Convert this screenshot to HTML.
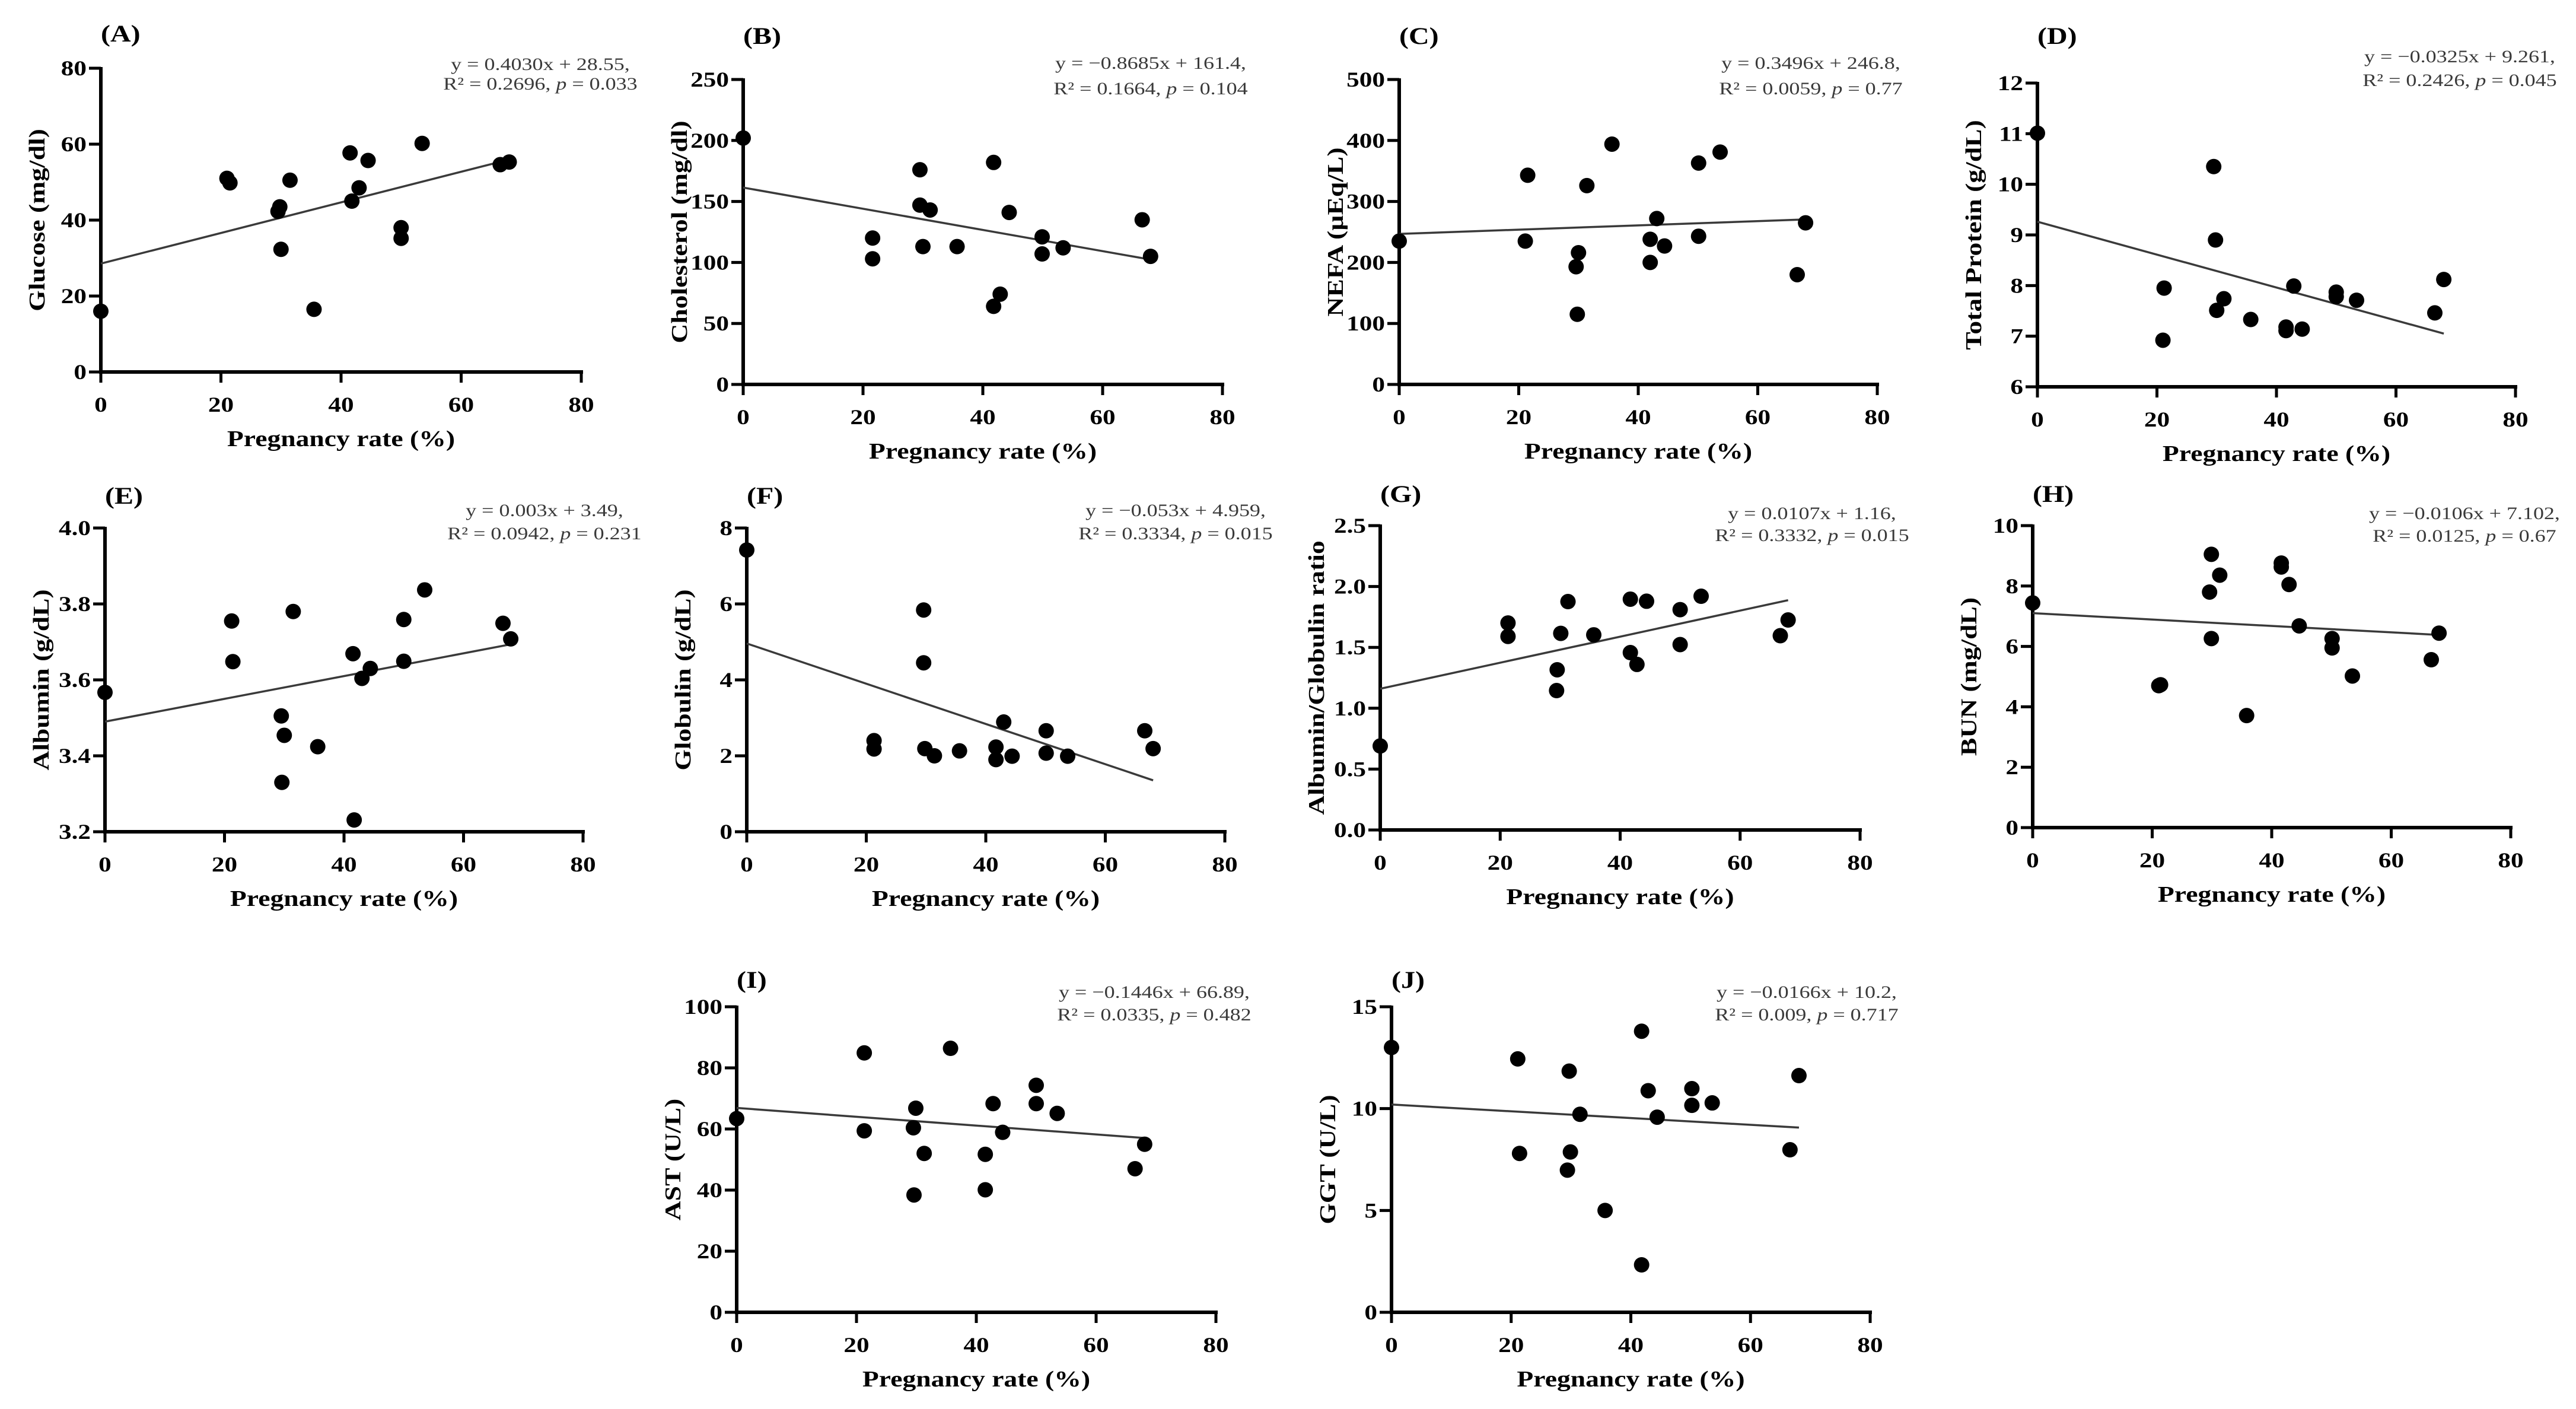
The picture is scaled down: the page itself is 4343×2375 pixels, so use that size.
<!DOCTYPE html>
<html><head><meta charset="utf-8"><style>
html,body{margin:0;padding:0;background:#fff;}
svg{display:block;}
text{font-family:"Liberation Serif","DejaVu Serif",serif;}
</style></head><body>
<svg id="fig" width="4343" height="2375" viewBox="0 0 4343 2375" xmlns="http://www.w3.org/2000/svg"></svg>
<script>
// ---- data (pregnancy rate %, value) ----
const X_A=[0,21,21.5,29.5,29.8,30,31.5,35.5,41.5,41.8,43,44.5,50,50,53.5,66.5,68];
const Y_A=[16,51,49.8,42.3,43.5,32.3,50.5,16.5,57.7,45,48.5,55.7,38,35.2,60.2,54.6,55.3];
const X_B=[0,21.6,21.6,29.5,29.5,31.2,30,35.7,41.8,42.9,41.8,44.4,49.9,49.9,53.4,66.6,68];
const Y_B=[202,120,103,176,147,143,113,113,182,74,64,141,121,107,112,135,105];
const X_C=[0,21.5,21.1,30,29.6,29.8,31.4,35.6,42,42,43.1,44.4,50.1,50.1,53.7,66.6,68];
const Y_C=[235,343,235,216,193,115,326,394,238,200,272,227,363,243,381,180,265];
const X_D=[0,21.2,21,29.5,29.8,30,31.2,35.7,41.6,41.6,42.9,44.3,50,50,53.4,66.5,68];
const Y_D=[11.01,7.95,6.92,10.35,8.9,7.51,7.74,7.33,7.18,7.11,7.99,7.14,7.87,7.78,7.71,7.46,8.12];
const X_E=[0,21.2,21.4,29.5,30,29.6,31.5,35.6,41.5,41.7,43,44.4,50,50,53.5,66.6,67.9];
const Y_E=[3.567,3.755,3.648,3.505,3.454,3.33,3.78,3.424,3.669,3.231,3.604,3.63,3.759,3.649,3.837,3.749,3.708];
const X_F=[0,21.3,21.3,29.6,29.6,29.8,31.4,35.6,41.7,41.7,43,44.4,50.1,50.1,53.7,66.6,68];
const Y_F=[7.42,2.4,2.18,5.84,4.45,2.19,2.0,2.13,2.23,1.9,2.89,1.99,2.66,2.07,1.99,2.66,2.19];
const X_G=[0,21.3,21.3,29.5,29.4,30.1,31.3,35.6,41.7,41.7,42.8,44.4,50,50,53.5,66.7,68];
const Y_G=[0.69,1.70,1.59,1.316,1.145,1.615,1.876,1.603,1.896,1.457,1.36,1.879,1.81,1.523,1.92,1.596,1.725];
const X_H=[0,21.1,21.4,29.9,31.3,29.6,29.9,35.8,41.6,41.6,42.9,44.6,50.1,50.1,53.5,66.7,68];
const Y_H=[7.44,4.7,4.73,9.05,8.36,7.8,6.26,3.71,8.76,8.63,8.05,6.68,6.26,5.95,5.02,5.56,6.44];
const X_I=[0,21.3,21.3,29.5,29.6,29.9,31.3,35.7,41.5,41.5,42.8,44.4,50,50,53.5,66.5,68.1];
const Y_I=[63.4,84.9,59.4,60.4,38.4,66.8,52,86.4,51.7,40.1,68.3,58.9,74.3,68.3,65.1,47,55];
const X_J=[0,21.1,21.4,29.7,29.9,29.4,31.5,35.7,41.8,41.8,42.9,44.4,50.2,50.2,53.6,66.6,68.1];
const Y_J=[13.0,12.44,7.8,11.84,7.87,6.98,9.72,5.0,13.8,2.33,10.88,9.58,10.98,10.16,10.28,7.98,11.62];
const SLOPES=[0.4030,-0.8685,0.3496,-0.0325,0.003,-0.053,0.0107,-0.0106,-0.1446,-0.0166];
const INTERCEPTS=[28.55,161.4,246.8,9.261,3.49,4.959,1.16,7.102,66.89,10.2];
const X_TICKS=[0,20,40,60,80];
const Y_TICKS_A=[0,20,40,60,80];
const Y_TICKS_B=[0,50,100,150,200,250];
const Y_TICKS_C=[0,100,200,300,400,500];
const Y_TICKS_D=[6,7,8,9,10,11,12];
const Y_TICKS_E=[3.2,3.4,3.6,3.8,4.0];
const Y_TICKS_F=[0,2,4,6,8];
const Y_TICKS_G=[0,0.5,1.0,1.5,2.0,2.5];
const Y_TICKS_H=[0,2,4,6,8,10];
const Y_TICKS_I=[0,20,40,60,80,100];
const Y_TICKS_J=[0,5,10,15];
const EQ1=['y = 0.4030x + 28.55,','y = \u22120.8685x + 161.4,','y = 0.3496x + 246.8,','y = \u22120.0325x + 9.261,','y = 0.003x + 3.49,','y = \u22120.053x + 4.959,','y = 0.0107x + 1.16,','y = \u22120.0106x + 7.102,','y = \u22120.1446x + 66.89,','y = \u22120.0166x + 10.2,'];
const R2=['0.2696','0.1664','0.0059','0.2426','0.0942','0.3334','0.3332','0.0125','0.0335','0.009'];
const PV=['0.033','0.104','0.77','0.045','0.231','0.015','0.015','0.67','0.482','0.717'];
const YLABELS=['Glucose (mg/dl)','Cholesterol (mg/dl)','NEFA (\u00b5Eq/L)','Total Protein (g/dL)','Albumin (g/dL)','Globulin (g/dL)','Albumin/Globulin ratio','BUN (mg/dL)','AST (U/L)','GGT (U/L)'];

// ---- layout ----
const P=[
 {id:'A',ax:170,x80:980,yT:115,y0:627,eqR:1086,eqY:108,eqY2:141,labY:56,xs:X_A,ys:Y_A,t:Y_TICKS_A,d:0},
 {id:'B',ax:1253,x80:2061,yT:134,y0:648,eqR:2115,eqY:106,eqY2:149,labY:60,xs:X_B,ys:Y_B,t:Y_TICKS_B,d:0},
 {id:'C',ax:2359,x80:3165,yT:134,y0:648,eqR:3228,eqY:106,eqY2:149,labY:60,xs:X_C,ys:Y_C,t:Y_TICKS_C,d:0},
 {id:'D',ax:3435,x80:4241,yT:140,y0:652,eqR:4322,eqY:95,eqY2:135,labY:60,xs:X_D,ys:Y_D,t:Y_TICKS_D,d:0},
 {id:'E',ax:177,x80:983,yT:890,y0:1402,eqR:1093,eqY:860,eqY2:899,labY:835,xs:X_E,ys:Y_E,t:Y_TICKS_E,d:1},
 {id:'F',ax:1259,x80:2065,yT:890,y0:1402,eqR:2157,eqY:860,eqY2:899,labY:835,xs:X_F,ys:Y_F,t:Y_TICKS_F,d:0},
 {id:'G',ax:2327,x80:3136,yT:886,y0:1399,eqR:3230,eqY:865,eqY2:902,labY:832,xs:X_G,ys:Y_G,t:Y_TICKS_G,d:1},
 {id:'H',ax:3427,x80:4233,yT:886,y0:1395,eqR:4330,eqY:865,eqY2:903,labY:832,xs:X_H,ys:Y_H,t:Y_TICKS_H,d:0},
 {id:'I',ax:1242,x80:2050,yT:1697,y0:2212,eqR:2121,eqY:1672,eqY2:1710,labY:1651,xs:X_I,ys:Y_I,t:Y_TICKS_I,d:0},
 {id:'J',ax:2346,x80:3153,yT:1697,y0:2212,eqR:3221,eqY:1672,eqY2:1710,labY:1651,xs:X_J,ys:Y_J,t:Y_TICKS_J,d:0}
];
const NS='http://www.w3.org/2000/svg';
const svg=document.getElementById('fig');
const SX=1.2;
function mk(tag,attrs,parent){const e=document.createElementNS(NS,tag);for(const k in attrs)e.setAttribute(k,attrs[k]);(parent||svg).appendChild(e);return e;}
function stretch(t){const l=t.getComputedTextLength();if(l>0){t.setAttribute('textLength',(l*SX).toFixed(1));t.setAttribute('lengthAdjust','spacingAndGlyphs');}}

P.forEach((p,i)=>{
  const g=mk('g',{});
  
  
  const ymin=p.t[0], ymax=p.t[p.t.length-1];
  const sx=v=>p.ax+(v-0)/(80-0)*(p.x80-p.ax);
  const sy=v=>p.y0-(v-ymin)/(ymax-ymin)*(p.y0-p.yT);
  const lab=mk('text',{x:p.ax,y:p.labY+14,'font-size':40,'font-weight':'bold',fill:'#000'},g);
  lab.textContent='('+p.id+')';
  
  
  stretch(lab);
  const ya=mk('line',{x1:p.ax,y1:p.yT-2,x2:p.ax,y2:p.y0+3,stroke:'#000','stroke-width':6},g);
  
  
  const xa=mk('line',{x1:p.ax-3,y1:p.y0,x2:p.x80+3,y2:p.y0,stroke:'#000','stroke-width':6},g);
  
  
  p.t.forEach(v=>{
    const y=sy(v);
    const tk=mk('line',{x1:p.ax-20,y1:y,x2:p.ax,y2:y,stroke:'#000','stroke-width':5},g);
    
    
    const tl=mk('text',{x:p.ax-24,y:y+12,'font-size':36,'font-weight':'bold','text-anchor':'end',fill:'#000'},g);
    tl.textContent=v.toFixed(p.d);
    
    
    stretch(tl);
  });
  X_TICKS.forEach(v=>{
    const x=sx(v);
    const tk=mk('line',{x1:x,y1:p.y0,x2:x,y2:p.y0+18,stroke:'#000','stroke-width':5},g);
    
    
    const tl=mk('text',{x:x,y:p.y0+67,'font-size':36,'font-weight':'bold','text-anchor':'middle',fill:'#000'},g);
    tl.textContent=String(v);
    
    
    stretch(tl);
  });
  const xt=mk('text',{x:(p.ax+p.x80)/2,y:p.y0+125,'font-size':38,'font-weight':'bold','text-anchor':'middle',fill:'#000'},g);
  xt.textContent='Pregnancy rate (%)';
  
  
  stretch(xt);
  const cy=(p.yT+p.y0)/2, cx=p.ax-108;
  const yt=mk('text',{x:cx,y:cy+13,'font-size':38,'font-weight':'bold','text-anchor':'middle',fill:'#000',transform:'rotate(-90 '+cx+' '+cy+')'},g);
  yt.textContent=YLABELS[i];
  
  
  stretch(yt);
  const xmax=Math.max(...p.xs), xmn=Math.min(...p.xs);
  const m=SLOPES[i], b=INTERCEPTS[i];
  const rl=mk('line',{x1:sx(xmn),y1:sy(m*xmn+b),x2:sx(xmax),y2:sy(m*xmax+b),stroke:'#3a3a3a','stroke-width':3.5},g);
  
  
  p.xs.forEach((xv,k)=>{
    const c=mk('circle',{cx:sx(xv),cy:sy(p.ys[k]),r:13,fill:'#000'},g);
    
    
  });
  const ecx=p.eqR-175;
  const e1=mk('text',{x:ecx,y:p.eqY+10,'font-size':30,'text-anchor':'middle',fill:'#3a3a3a'},g);
  e1.textContent=EQ1[i];
  
  
  stretch(e1);
  const e2=mk('text',{x:ecx,y:p.eqY2+10,'font-size':30,'text-anchor':'middle',fill:'#3a3a3a'},g);
  
  
  const s1=mk('tspan',{},e2); s1.textContent='R\u00b2 = '+R2[i]+', ';
  const s2=mk('tspan',{'font-style':'italic'},e2); s2.textContent='p';
  const s3=mk('tspan',{},e2); s3.textContent=' = '+PV[i];
  stretch(e2);
});
</script>
</body></html>
